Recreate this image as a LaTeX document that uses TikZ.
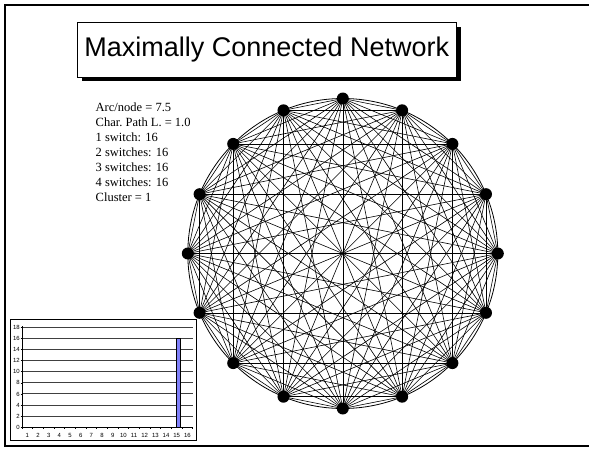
\documentclass[tikz,border=0pt]{standalone}
\usepackage{fontspec}
\setmainfont{Liberation Serif}
\newfontfamily\arial{Liberation Sans}
\usetikzlibrary{calc}
\begin{document}
\begin{tikzpicture}[x=1pt,y=-1pt,
  frameline/.style={line width=1.4pt},
  titlebox/.style={draw=black,line width=0.6pt,fill=white},
  edge/.style={line width=0.6pt,black},
  ring/.style={line width=0.8pt,black},
  dot/.style={circle,fill=black,inner sep=0pt,minimum size=12pt},
  stat/.style={anchor=base west,inner sep=0pt,font=\fontsize{12.5}{14}\selectfont},
  grid/.style={black!75,line width=1pt},
  tick/.style={font=\arial\fontsize{6}{6}\selectfont,inner sep=0pt},
  barfill/.style={draw=black,line width=0.6pt,fill={rgb,255:red,128;green,128;blue,250}}]
\useasboundingbox (0,0) rectangle (589,448);
\fill[white] (0,0) rectangle (589,448);

% slide frame (right edge runs off the page)
\begin{scope}
\clip (0,0) rectangle (589,448);
\draw[frameline] (5,5) rectangle (600,446);
\end{scope}

% title with drop shadow
\fill[black] (81.5,26.5) rectangle (461,81);
\node[titlebox,minimum width=379pt,minimum height=55pt,anchor=north west,inner sep=0pt]
  (title) at (77,22) {};
\node[font=\arial\fontsize{27}{30}\selectfont,inner sep=0pt] (titletext) at (title.center)
  {Maximally Connected Network};

% network statistics
\foreach \k/\txt in {0/{Arc/node = 7.5},1/{Char.\ Path L.\ = 1.0},2/{1 switch: 16},
  3/{2 switches: 16},4/{3 switches: 16},5/{4 switches: 16},6/{Cluster = 1}}
  \node[stat] (stat\k) at (95.5,111.7+15*\k) {\txt};

% complete graph on 16 vertices
\coordinate (c) at (342.8,253.5);
\foreach \i in {0,...,15}
  \coordinate (v\i) at ($(c)+({90-22.5*\i}:155pt)$);
\foreach \i in {0,...,14}{
  \pgfmathtruncatemacro\first{\i+1}
  \foreach \j in {\first,...,15}
    \draw[edge] (v\i) -- (v\j);
}
\draw[ring] (c) circle[radius=155pt];
\foreach \i in {0,...,15}
  \node[dot] (n\i) at (v\i) {};

% degree histogram
\draw[line width=1pt] (10,319) rectangle (196,440);
\foreach \v in {2,4,...,18}
  \draw[grid] (22,{427.3-5.556*\v}) -- (192.7,{427.3-5.556*\v});
\foreach \v in {0,2,...,18}{
  \draw[line width=0.5pt] (20.5,{427.3-5.556*\v}) -- (22,{427.3-5.556*\v});
  \node[tick,anchor=base east] (yl\v) at (20,{429.4-5.556*\v}) {\v};
}
\draw[barfill] (176,338.4) rectangle (180.5,427.3);
\draw[line width=0.8pt] (22,326) -- (22,427.3) -- (192.7,427.3);
\foreach \k in {0,...,16}
  \draw[line width=0.5pt] ({22+10.67*\k},427.3) -- ({22+10.67*\k},429.3);
\foreach \k in {1,...,16}
  \node[tick,anchor=base] (xl\k) at ({22+10.67*\k-5.33},437.5) {\k};
\end{tikzpicture}
\end{document}
